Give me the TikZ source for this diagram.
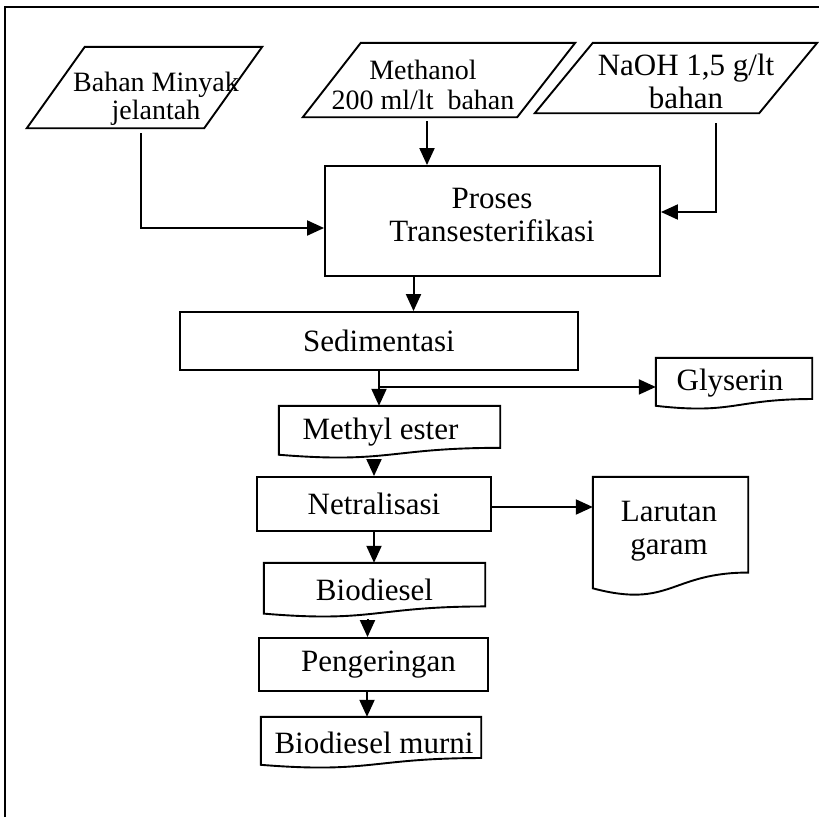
\documentclass[tikz,border=0pt]{standalone}
\usepackage{fontspec}
\setmainfont{Liberation Serif}
\usetikzlibrary{calc,arrows.meta}
\tikzset{
  outl/.style = {draw=black, line width=1.9pt, line join=miter},
  boxn/.style = {rectangle, inner sep=0pt, align=center},
  procbox/.style = {boxn, outl},
  txt/.style  = {inner sep=0pt, align=center},
  arr/.style  = {-{Triangle[length=17pt,width=15pt]}, line width=2pt},
}
% data input: slanted outline round a named node
\newcommand\slantbox[2]{%
  \draw[outl] ([xshift=#2]#1.north west) -- (#1.north east)
    -- ([xshift=-#2]#1.south east) -- (#1.south west) -- cycle;}
% document: wavy bottom edge
\newcommand\docbox[1]{%
  \draw[outl] (#1.north west) -- (#1.north east)
    -- ($(#1.north east)!0.802!(#1.south east)$)
    .. controls ($(#1.north)!0.802!(#1.south)$) and ($(#1.north)!1.107!(#1.south)$)
    .. ($(#1.north west)!0.934!(#1.south west)$) -- cycle;}

\begin{document}
\begin{tikzpicture}[x=1pt,y=-1pt,font=\fontsize{31}{32}\selectfont]
  \useasboundingbox (0,0) rectangle (819,817);
  \draw[line width=1.6pt] (5,817) -- (5,7) -- (819,7);

  % inputs
  \node[boxn,minimum width=235pt,minimum height=81pt] (bahan) at (144.5,87.5) {};
  \node[boxn,minimum width=272pt,minimum height=74pt] (metanol) at (439,80) {};
  \node[boxn,minimum width=282pt,minimum height=70pt] (naoh) at (676,78) {};
  \slantbox{bahan}{58pt}
  \slantbox{metanol}{58pt}
  \slantbox{naoh}{58pt}
  \node[txt,font=\fontsize{28}{28}\selectfont] (bahan-t) at (156,99) {Bahan Minyak\\jelantah};
  \node[txt,font=\fontsize{28}{30}\selectfont] (metanol-t) at (423,85) {Methanol\\200 ml/lt~ bahan};
  \node[txt] (naoh-t) at (686,81) {NaOH 1,5 g/lt\\[1pt]bahan};

  % process chain
  \node[procbox,minimum width=335pt,minimum height=110pt] (trans) at (492.5,221) {};
  \node[txt] (trans-t) at (492,215) {Proses\\[1pt]Transesterifikasi};
  \node[procbox,minimum width=398pt,minimum height=58pt] (sedim) at (379,341) {Sedimentasi};
  \node[boxn,minimum width=156pt,minimum height=51pt] (glys) at (734,383.5) {Glyserin\hspace*{8pt}};
  \node[boxn,minimum width=221pt,minimum height=52pt] (methyl) at (389.5,432) {Methyl ester\hspace*{18pt}};
  \node[procbox,minimum width=234pt,minimum height=54pt] (netral) at (374,504) {Netralisasi};
  \node[boxn,minimum width=155pt,minimum height=119pt] (larutan) at (670.5,536.5) {};
  \node[txt] (larutan-t) at (669,531) {Larutan\\[1pt]garam};
  \node[boxn,minimum width=221pt,minimum height=54pt] (biod) at (374.5,590) {Biodiesel};
  \node[procbox,minimum width=229pt,minimum height=53pt] (kering) at (373.5,664.5) {\hspace*{10pt}Pengeringan};
  \node[boxn,minimum width=220pt,minimum height=51pt] (murni) at (371,742.5) {\hspace*{6pt}Biodiesel murni};
  \docbox{glys}
  \docbox{methyl}
  \docbox{larutan}
  \docbox{biod}
  \docbox{murni}

  % connectors
  \draw[arr,shorten <=5pt] ([xshift=-3.5pt]bahan.south) |- ([yshift=-7pt]trans.west);
  \draw[arr,shorten <=4pt] ([xshift=-12pt]metanol.south) -- ([xshift=-12pt]metanol.south |- trans.north);
  \draw[arr,shorten <=10pt] ([xshift=40pt]naoh.south) |- ([yshift=9pt]trans.east);
  \draw[arr] ([xshift=-79pt]trans.south) -- ([xshift=-79pt]trans.south |- sedim.north);
  \draw[arr] (sedim.south) -- (sedim.south |- methyl.north);
  \draw[arr] ([yshift=-16pt]sedim.south) -- ([yshift=-16pt]sedim.south -| glys.west);
  \draw[arr,shorten <=4pt] (netral.north |- methyl.south) -- (netral.north);
  \draw[arr] ([yshift=-3pt]netral.east) -- ([yshift=-3pt]netral.east -| larutan.west);
  \draw[arr] (netral.south) -- (netral.south |- biod.north);
  \draw[arr,shorten <=2pt] ([xshift=-7pt]biod.south) -- ([xshift=-7pt]biod.south |- kering.north);
  \draw[arr] ([xshift=-6.5pt]kering.south) -- ([xshift=-6.5pt]kering.south |- murni.north);
\end{tikzpicture}
\end{document}
